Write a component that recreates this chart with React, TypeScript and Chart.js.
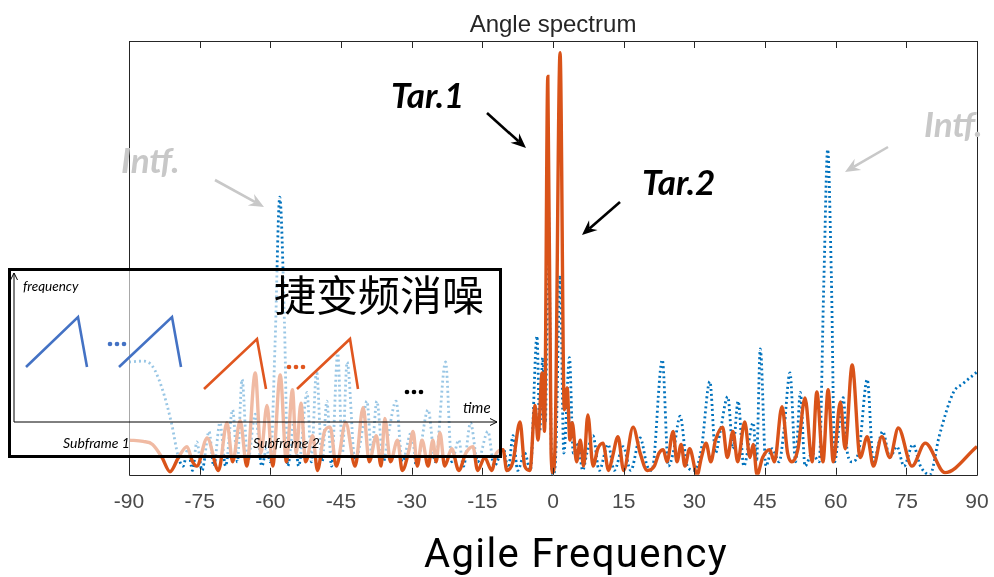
import React, { useEffect, useRef } from 'react';
import { Chart, registerables } from 'chart.js';

Chart.register(...registerables);

// ---- data ----
const xTickValues = [-90, -75, -60, -45, -30, -15, 0, 15, 30, 45, 60, 75, 90];

const beforeAngles = [
  -90, -87, -85, -83, -81, -79.5, -78.5, -77.5, -76.5, -75.6, -74.5, -73, -72, -70.7, -69.5, -68, -67, -66,
  -64.8, -63.2, -61.8, -60.8, -60, -59, -58, -57, -56.3, -55, -54, -52.2, -51.3, -50.2, -49, -48, -47,
  -45.7, -44.7, -43.7, -42, -40.8, -39.5, -38.5, -37.4, -36, -35, -33.3, -32, -30, -29, -26.5, -25, -22.8,
  -21.5, -20, -19, -17.5, -16, -13.8, -12.5, -10.5, -9.5, -8.5, -7.5, -6, -4.8, -3.4, -2.8, -2.2, -1.6, -1,
  -0.3, 0, 0.6, 1.5, 2.3, 3.5, 4.3, 5.3, 6.3, 7.2, 8.5, 9.8, 11.7, 13, 14.9, 16.5, 18.5, 20, 21, 23.2, 24.5,
  25.5, 27, 28.5, 30, 31.5, 33.3, 34.5, 35.5, 37.1, 38.2, 39.3, 40.5, 42.5, 43.2, 44, 45.2, 46.5, 48, 49,
  50.3, 51.5, 52.5, 53.5, 55, 56.5, 57.5, 58.3, 59.1, 59.8, 60.8, 61.6, 62.5, 63.5, 65, 66.7, 68, 70, 71.5,
  73, 74.5, 76.4, 78, 80, 82, 85, 87, 90,
];
const beforeValues = [
  0.26, 0.262, 0.25, 0.2, 0.12, 0.04, 0.02, 0.06, 0.01, 0.076, 0.01, 0.1, 0.02, 0.12, 0.02, 0.15, 0.03, 0.22,
  0.03, 0.14, 0.02, 0.06, 0.03, 0.3, 0.64, 0.35, 0.02, 0.12, 0.02, 0.19, 0.03, 0.24, 0.03, 0.17, 0.02,
  0.28, 0.05, 0.26, 0.03, 0.08, 0.17, 0.05, 0.17, 0.03, 0.09, 0.17, 0.03, 0.1, 0.02, 0.15, 0.03, 0.26,
  0.03, 0.08, 0.02, 0.12, 0.03, 0.1, 0.02, 0.06, 0.01, 0.09, 0.01, 0.05, 0.01, 0.32, 0.1, 0.27, 0.12, 0.63,
  0.03, 0.0, 0.05, 0.46, 0.05, 0.27, 0.05, 0.07, 0.01, 0.05, 0.09, 0.01, 0.07, 0.01, 0.065, 0.01, 0.085, 0.02, 0.01, 0.265, 0.02,
  0.05, 0.135, 0.02, 0.01, 0.06, 0.215, 0.05, 0.1, 0.18, 0.06, 0.17, 0.02, 0.12, 0.03, 0.29, 0.02, 0.06, 0.03, 0.1,
  0.235, 0.03, 0.19, 0.02, 0.05, 0.03, 0.45, 0.75, 0.45, 0.03, 0.12, 0.178, 0.05, 0.03, 0.06, 0.22, 0.03, 0.1, 0.04,
  0.065, 0.02, 0.07, 0.02, 0.0, 0.09, 0.19, 0.21, 0.237,
];

const afterAngles = [
  -90, -87, -85, -83, -81.3, -79.5, -77.7, -76.5, -75.6, -73.4, -71, -69.2, -68, -66.4, -65, -63.2, -62, -60.7,
  -59.5, -57.9, -56.6, -55.3, -54.5, -53.5, -52.5, -51, -50, -48.5, -47.3, -46, -44, -42, -40.3, -39, -37.5,
  -36.5, -35.7, -34.5, -33, -32, -30.5, -29.7, -28.8, -27.8, -26.5, -25.5, -24.8, -24, -23, -21.5, -20, -18.5,
  -17, -16, -14.5, -13, -12, -10.6, -9.8, -8.5, -7, -6, -4.9, -3.8, -3.2, -2.3, -1.8, -1.1, -0.4, 0, 0.5, 1.5,
  2.4, 3, 3.6, 4.1, 5, 5.8, 6.5, 7.4, 8.5, 9.5, 10.6, 11.8, 12.6, 13.8, 15, 17, 18.5, 20, 21.5, 22.5, 23.4, 24.2,
  25.5, 26.3, 27.2, 28, 29, 30.6, 31.5, 32.5, 33.5, 34.5, 36, 37, 38.2, 39.2, 40.7, 41.8, 42.5, 43.3, 44.5, 46,
  47, 48.6, 49.8, 50.7, 52, 53.5, 55, 56, 57.3, 58.4, 59.5, 61, 62, 63.5, 65.2, 66.7, 68, 69.8, 71.5, 73.3,
  76.2, 79, 83.2, 90,
];
const afterValues = [
  0.08, 0.077, 0.07, 0.04, 0.007, 0.04, 0.065, 0.03, 0.02, 0.085, 0.01, 0.12, 0.03, 0.125, 0.02, 0.235, 0.05, 0.16,
  0.02, 0.23, 0.03, 0.196, 0.05, 0.165, 0.03, 0.09, 0.01, 0.1, 0.11, 0.02, 0.12, 0.02, 0.155, 0.03, 0.09,
  0.02, 0.13, 0.03, 0.08, 0.01, 0.06, 0.1, 0.02, 0.08, 0.02, 0.08, 0.03, 0.097, 0.02, 0.06, 0.01, 0.05,
  0.065, 0.01, 0.04, 0.01, 0.05, 0.058, 0.01, 0.03, 0.122, 0.02, 0.01, 0.16, 0.08, 0.235, 0.1, 0.918, 0.05, 0.005, 0.1, 0.973,
  0.15, 0.2, 0.08, 0.12, 0.03, 0.08, 0.02, 0.138, 0.02, 0.06, 0.073, 0.01, 0.04, 0.088, 0.01, 0.11, 0.05, 0.01, 0.02, 0.05, 0.058, 0.03,
  0.1, 0.03, 0.07, 0.02, 0.06, 0.0, 0.04, 0.073, 0.03, 0.08, 0.11, 0.04, 0.1, 0.03, 0.122, 0.04, 0.07, 0.0, 0.04, 0.058,
  0.03, 0.157, 0.05, 0.03, 0.06, 0.177, 0.03, 0.191, 0.03, 0.196, 0.03, 0.168, 0.06, 0.253, 0.04, 0.088, 0.02, 0.088, 0.04, 0.108,
  0.02, 0.073, 0.005, 0.065,
];

// ---- styles ----
const BLUE = '#0072BD';
const ORANGE = '#D95319';
const AXIS = '#262626';

const framePlugin = {
  id: 'matlabFrame',
  afterDatasetsDraw(chart: any) {
    const { ctx, chartArea, scales } = chart;
    const { left, right, top, bottom } = chartArea;
    ctx.save();
    ctx.strokeStyle = AXIS;
    ctx.lineWidth = 1;
    ctx.beginPath();
    ctx.rect(Math.round(left) + 0.5, Math.round(top) + 0.5, Math.round(right - left), Math.round(bottom - top));
    ctx.stroke();
    ctx.beginPath();
    xTickValues.forEach((v) => {
      const px = Math.round(scales.x.getPixelForValue(v)) + 0.5;
      ctx.moveTo(px, bottom);
      ctx.lineTo(px, bottom - 7);
      ctx.moveTo(px, top);
      ctx.lineTo(px, top + 7);
    });
    ctx.stroke();
    ctx.restore();
  },
};

function arrow(x1: number, y1: number, x2: number, y2: number, color: string, key: string) {
  const dx = x2 - x1;
  const dy = y2 - y1;
  const len = Math.sqrt(dx * dx + dy * dy);
  const ux = dx / len;
  const uy = dy / len;
  const L = 15;
  const W = 6.5;
  const N = 10;
  const bx = x2 - ux * L;
  const by = y2 - uy * L;
  const nx = x2 - ux * N;
  const ny = y2 - uy * N;
  const pts = [
    [x2, y2],
    [bx - uy * W, by + ux * W],
    [nx, ny],
    [bx + uy * W, by - ux * W],
  ]
    .map((p) => p.join(','))
    .join(' ');
  return (
    <g key={key}>
      <line x1={x1} y1={y1} x2={nx} y2={ny} stroke={color} strokeWidth={2.6} />
      <polygon points={pts} fill={color} />
    </g>
  );
}

export default function App() {
  const canvasRef = useRef<HTMLCanvasElement | null>(null);

  useEffect(() => {
    if (!canvasRef.current) return;
    const chart = new Chart(canvasRef.current, {
      type: 'line',
      data: {
        datasets: [
          {
            label: 'after',
            data: afterAngles.map((a, i) => ({ x: a, y: afterValues[i] })),
            borderColor: ORANGE,
            borderWidth: 3.4,
            pointRadius: 0,
            cubicInterpolationMode: 'monotone',
            order: 0,
          },
          {
            label: 'before',
            data: beforeAngles.map((a, i) => ({ x: a, y: beforeValues[i] })),
            borderColor: BLUE,
            borderWidth: 2.8,
            borderDash: [2, 3],
            pointRadius: 0,
            cubicInterpolationMode: 'monotone',
            order: 1,
          },
        ],
      },
      options: {
        animation: false,
        responsive: false,
        maintainAspectRatio: false,
        layout: { padding: { left: 129, right: 17, top: 41, bottom: 59 } },
        plugins: {
          legend: { display: false },
          tooltip: { enabled: false },
          title: { display: false },
        },
        scales: {
          x: {
            type: 'linear',
            min: -90,
            max: 90,
            afterBuildTicks: (scale: any) => {
              scale.ticks = xTickValues.map((v) => ({ value: v }));
            },
            ticks: {
              font: { family: '"Liberation Sans", Arial, sans-serif', size: 21 },
              color: '#4a4a4a',
              padding: 3,
              maxRotation: 0,
              autoSkip: false,
            },
            grid: {
              display: true,
              drawOnChartArea: false,
              drawTicks: true,
              tickLength: 12,
              color: 'rgba(0,0,0,0)',
            },
            border: { display: false },
          },
          y: { display: false, min: 0, max: 1 },
        },
      } as any,
      plugins: [framePlugin],
    });
    return () => chart.destroy();
  }, []);

  const blueChirp = '#4472C4';
  const orangeChirp = '#E0561F';
  const italic = { fontFamily: 'Lato, "Open Sans", sans-serif', fontStyle: 'italic' as const };
  const bold = { fontFamily: 'Lato, "Open Sans", sans-serif', fontStyle: 'italic' as const, fontWeight: 700 };

  return (
    <div style={{ position: 'absolute', left: 0, top: 0, width: 994, height: 577, background: '#fff' }}>
      <canvas ref={canvasRef} width={994} height={577} style={{ position: 'absolute', left: 0, top: 0 }} />
      <svg width={994} height={577} style={{ position: 'absolute', left: 0, top: 0 }}>
        <text x={553} y={32} textAnchor="middle" fontFamily='"Liberation Sans", Arial, sans-serif' fontSize={24} fill="#262626">
          Angle spectrum
        </text>

        <text x={391} y={108} fontSize={35} fill="#000" style={bold}>Tar.1</text>
        <text x={642} y={195} fontSize={35} fill="#000" style={bold}>Tar.2</text>
        <text x={121} y={173} fontSize={35} fill="#c8c8c8" style={bold}>Intf.</text>
        <text x={924} y={137} fontSize={35} fill="#c8c8c8" style={bold}>Intf.</text>

        {arrow(487, 113, 526, 148, '#000', 'a1')}
        {arrow(620, 202, 582, 235, '#000', 'a2')}
        {arrow(215, 180, 264, 207, '#c8c8c8', 'a3')}
        {arrow(888, 147, 845, 172, '#c8c8c8', 'a4')}

        {/* inset */}
        <rect x={9.5} y={269.5} width={491} height={187} fill="rgba(255,255,255,0.6)" stroke="#000" strokeWidth={3} />
        <g stroke="#000" strokeWidth={1} fill="none">
          <line x1={14} y1={422} x2={14} y2={273} />
          <polyline points="10.5,280 14,273 17.5,280" />
          <line x1={14} y1={422} x2={497} y2={422} />
          <polyline points="490,418.5 497,422 490,425.5" />
        </g>
        <g fill="none" strokeWidth={2.6}>
          <polyline points="26,367 78,317 87,367" stroke={blueChirp} />
          <polyline points="119,367 172,317 181,367" stroke={blueChirp} />
          <polyline points="204,389 257,339 266,389" stroke={orangeChirp} />
          <polyline points="297,389 350,339 358,389" stroke={orangeChirp} />
        </g>
        <g fill={blueChirp}>
          <circle cx={110} cy={344} r={2.3} />
          <circle cx={117} cy={344} r={2.3} />
          <circle cx={124} cy={344} r={2.3} />
        </g>
        <g fill={orangeChirp}>
          <circle cx={289} cy={367} r={2.3} />
          <circle cx={296} cy={367} r={2.3} />
          <circle cx={303} cy={367} r={2.3} />
        </g>
        <g fill="#000">
          <circle cx={407} cy={392} r={2.3} />
          <circle cx={414} cy={392} r={2.3} />
          <circle cx={421} cy={392} r={2.3} />
        </g>
        <text x={23} y={291} fontSize={13.5} fill="#000" style={italic}>frequency</text>
        <text x={463} y={413} fontSize={15} fill="#000" style={italic}>time</text>
        <text x={63} y={448} fontSize={14} fill="#000" style={italic}>Subframe 1</text>
        <text x={253} y={448} fontSize={14} fill="#000" style={italic}>Subframe 2</text>
        <text x={274} y={311} fontSize={42} fill="#000" fontFamily='"Noto Sans CJK SC", sans-serif'>
          捷变频消噪
        </text>

        <text x={576} y={567} textAnchor="middle" fontSize={40} fill="#000" fontFamily="Roboto, sans-serif" letterSpacing={1.4}>
          Agile Frequency
        </text>
      </svg>
    </div>
  );
}
